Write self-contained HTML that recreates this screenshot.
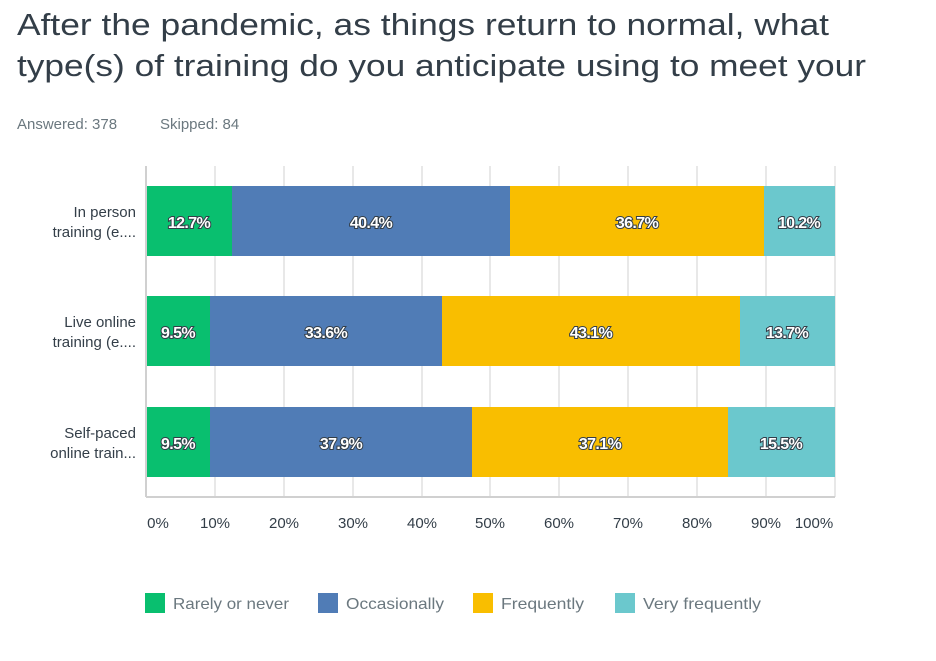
<!DOCTYPE html>
<html><head><meta charset="utf-8"><style>
body{margin:0;background:#fff;width:936px;height:656px;overflow:hidden;font-family:"Liberation Sans",sans-serif}
</style></head><body>
<svg width="936" height="656" xmlns="http://www.w3.org/2000/svg" font-family="Liberation Sans, sans-serif">
<text x="17" y="35" font-size="31" fill="#333e48" textLength="812" lengthAdjust="spacingAndGlyphs">After the pandemic, as things return to normal, what</text>
<text x="17" y="76" font-size="31" fill="#333e48" textLength="849" lengthAdjust="spacingAndGlyphs">type(s) of training do you anticipate using to meet your</text>
<text x="17" y="129" font-size="15" fill="#6b787f">Answered: 378</text>
<text x="160" y="129" font-size="15" fill="#6b787f">Skipped: 84</text>
<g stroke="#e8e8e8" stroke-width="2">
<line x1="215" y1="166" x2="215" y2="497"/><line x1="284" y1="166" x2="284" y2="497"/><line x1="353" y1="166" x2="353" y2="497"/><line x1="422" y1="166" x2="422" y2="497"/><line x1="490" y1="166" x2="490" y2="497"/><line x1="559" y1="166" x2="559" y2="497"/><line x1="628" y1="166" x2="628" y2="497"/><line x1="697" y1="166" x2="697" y2="497"/><line x1="766" y1="166" x2="766" y2="497"/><line x1="835" y1="166" x2="835" y2="497"/>
</g>
<line x1="146" y1="497" x2="835" y2="497" stroke="#d0d0d0" stroke-width="2"/>
<line x1="146" y1="166" x2="146" y2="497" stroke="#d0d0d0" stroke-width="2"/>
<rect x="147" y="186" width="85" height="70" fill="#09bf6f"/>
<rect x="232" y="186" width="278" height="70" fill="#507cb6"/>
<rect x="510" y="186" width="254" height="70" fill="#f9be00"/>
<rect x="764" y="186" width="71" height="70" fill="#6bc8cd"/>
<rect x="147" y="296" width="63" height="70" fill="#09bf6f"/>
<rect x="210" y="296" width="232" height="70" fill="#507cb6"/>
<rect x="442" y="296" width="298" height="70" fill="#f9be00"/>
<rect x="740" y="296" width="95" height="70" fill="#6bc8cd"/>
<rect x="147" y="407" width="63" height="70" fill="#09bf6f"/>
<rect x="210" y="407" width="262" height="70" fill="#507cb6"/>
<rect x="472" y="407" width="256" height="70" fill="#f9be00"/>
<rect x="728" y="407" width="107" height="70" fill="#6bc8cd"/>
<g font-size="16" font-weight="bold" fill="#fff" stroke="#333e48" stroke-width="2" paint-order="stroke" text-anchor="middle" letter-spacing="-0.6">
<text x="189" y="228">12.7%</text><text x="371" y="228">40.4%</text><text x="637" y="228">36.7%</text><text x="799" y="228">10.2%</text>
<text x="178" y="338">9.5%</text><text x="326" y="338">33.6%</text><text x="591" y="338">43.1%</text><text x="787" y="338">13.7%</text>
<text x="178" y="449">9.5%</text><text x="341" y="449">37.9%</text><text x="600" y="449">37.1%</text><text x="781" y="449">15.5%</text>
</g>
<g font-size="15" fill="#333e48" text-anchor="end">
<text x="136" y="217">In person</text><text x="136" y="237">training (e....</text>
<text x="136" y="327">Live online</text><text x="136" y="347">training (e....</text>
<text x="136" y="438">Self-paced</text><text x="136" y="458">online train...</text>
</g>
<g font-size="15" fill="#333e48" text-anchor="middle">
<text x="158" y="528">0%</text><text x="215" y="528">10%</text><text x="284" y="528">20%</text><text x="353" y="528">30%</text><text x="422" y="528">40%</text><text x="490" y="528">50%</text><text x="559" y="528">60%</text><text x="628" y="528">70%</text><text x="697" y="528">80%</text><text x="766" y="528">90%</text><text x="814" y="528">100%</text>
</g>
<g font-size="16" fill="#6b787f">
<rect x="145" y="593" width="20" height="20" fill="#09bf6f"/><text x="173" y="609" textLength="116" lengthAdjust="spacingAndGlyphs">Rarely or never</text>
<rect x="318" y="593" width="20" height="20" fill="#507cb6"/><text x="346" y="609" textLength="98" lengthAdjust="spacingAndGlyphs">Occasionally</text>
<rect x="473" y="593" width="20" height="20" fill="#f9be00"/><text x="501" y="609" textLength="83" lengthAdjust="spacingAndGlyphs">Frequently</text>
<rect x="615" y="593" width="20" height="20" fill="#6bc8cd"/><text x="643" y="609" textLength="118" lengthAdjust="spacingAndGlyphs">Very frequently</text>
</g>
</svg>
</body></html>
